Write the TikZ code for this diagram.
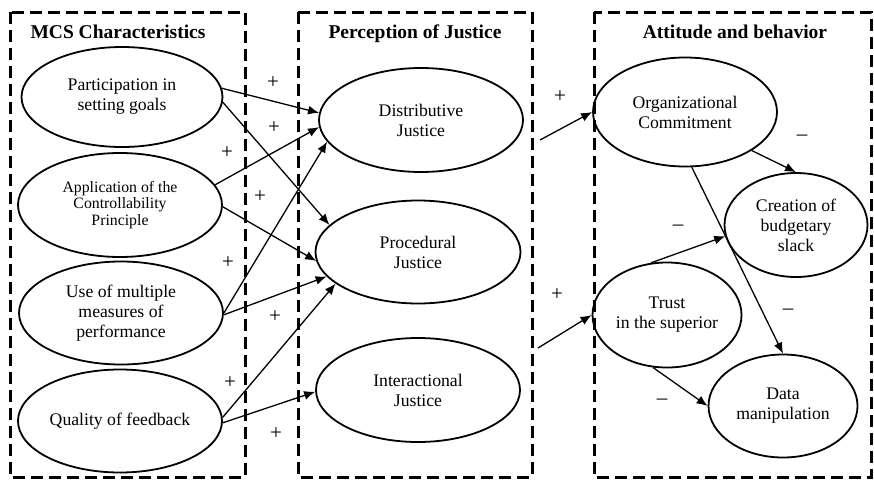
\documentclass[tikz,border=0pt]{standalone}
\usepackage{fontspec}
\setmainfont{Liberation Serif}
\usetikzlibrary{arrows.meta, shapes.geometric}

\begin{document}
\begin{tikzpicture}[x=1pt, y=-1pt,
        every node/.style={font=\fontsize{17.7}{20}\selectfont},
        var/.style={ellipse, draw, line width=1.8pt, minimum width=204pt, minimum height=103pt, inner sep=0pt, align=center},
        group/.style={draw, line width=3pt, dash pattern=on 12pt off 6pt},
        title/.style={font=\fontsize{19.5}{22}\selectfont\bfseries, anchor=base},
        sign/.style={inner sep=0pt, font=\fontsize{21}{22}\selectfont},
        arr/.style={line width=1.3pt, -{Latex[length=11pt, width=9pt]}}]
        \useasboundingbox (0, 0) rectangle (874, 479);
        \draw [group] (10, 12) rectangle (245, 477) (298, 12) rectangle (532, 477) (594, 12) rectangle (871, 477);
        \node [title, anchor=base west] (mcs) at (27, 38) {MCS Characteristics};
        \node [title] (poj) at (415, 38) {Perception of Justice};
        \node [title] (att) at (735, 38) {Attitude and behavior};
        \node [var, minimum width=201pt, minimum height=100pt] (part) at (122, 97) {Participation in\\setting goals};
        \node [var, minimum height=104pt, font=\fontsize{15.8}{16.7}\selectfont] (app) at (120, 205) {Application of the\\Controllability\\Principle};
        \node [var] (use) at (121, 313) {Use of multiple\\measures of\\performance};
        \node [var] (qual) at (120, 421) {Quality of feedback};
        \node [var, minimum height=104pt] (dist) at (421, 120) {Distributive\\Justice};
        \node [var, minimum width=205pt] (proc) at (418, 252) {Procedural\\Justice};
        \node [var, minimum height=104pt] (inter) at (418, 390) {Interactional\\Justice};
        \node [var, minimum width=184pt, minimum height=109pt] (org) at (685, 112) {Organizational\\Commitment};
        \node [var, minimum width=143pt, minimum height=104pt] (slack) at (796, 225) {Creation of\\budgetary\\slack};
        \node [var, minimum width=149pt, minimum height=105pt] (trust) at (667, 315) {Trust\\in the superior};
        \node [var, minimum width=149pt] (data) at (783, 406) {Data\\manipulation};
        \coordinate (dist-out) at (540, 140);
        \coordinate (inter-out) at (538, 348);
        \draw [arr] (part.5) -- (dist.176);
        \draw [arr] (part.-3) -- (proc.163);
        \draw [arr] (app.12) -- (dist.184);
        \draw [arr] (app.-1) -- (proc.185);
        \draw [arr] (use.0) -- (dist.193);
        \draw [arr] (use.-1) -- (proc.195);
        \draw [arr] (qual.2) -- (proc.201);
        \draw [arr] (qual.-1) -- (inter.181);
        \draw [arr] (dist-out) -- (org.west);
        \draw [arr] (inter-out) -- (trust.west);
        \draw [arr] (org.-30) -- (slack.north);
        \draw [arr] (org.-83) -- (data.north);
        \draw [arr] (trust.107) -- (slack.189);
        \draw [arr] (trust.-105) -- (data.west);
        \node [sign] (plus1) at (273, 83) {+};
        \node [sign] (plus2) at (274, 128) {+};
        \node [sign] (plus3) at (227, 153) {+};
        \node [sign] (plus4) at (260, 197) {+};
        \node [sign] (plus5) at (228, 263) {+};
        \node [sign] (plus6) at (275, 317) {+};
        \node [sign] (plus7) at (230, 383) {+};
        \node [sign] (plus8) at (276, 434) {+};
        \node [sign] (plus9) at (560, 97) {+};
        \node [sign] (plus10) at (557, 295) {+};
        \node [sign] (minus1) at (802, 138) {--};
        \node [sign] (minus2) at (678, 228) {--};
        \node [sign] (minus3) at (788, 312) {--};
        \node [sign] (minus4) at (662, 402) {--};
    \end{tikzpicture}
\end{document}
